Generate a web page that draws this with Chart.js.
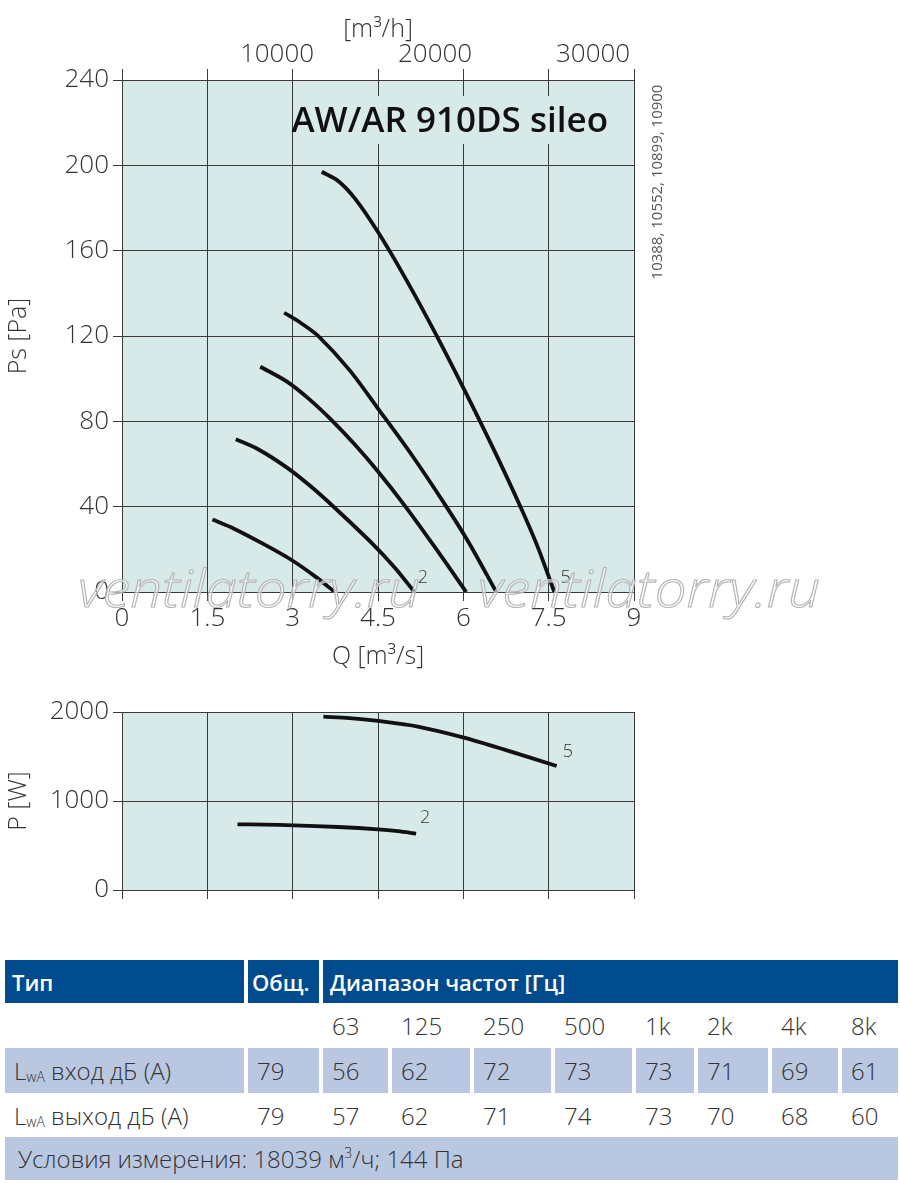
<!DOCTYPE html>
<html lang="ru">
<head>
<meta charset="utf-8">
<script src="https://cdn.jsdelivr.net/npm/chart.js@4.4.1/dist/chart.umd.min.js"></script>
<style>
  body { margin: 0; width: 900px; height: 1183px; background: #fff; position: relative; overflow: hidden; font-family: "Open Sans", sans-serif; }
  #graficoPs { position: absolute; left: 0; top: 0; }
  #graficoP { position: absolute; left: 0; top: 690px; }
  table.ruido { position: absolute; left: 1px; top: 958px; width: 897px; border-collapse: separate; border-spacing: 4px 2px; table-layout: fixed; }
  table.ruido th { background: #004b8d; color: #fff; font-size: 22px; font-weight: 600; text-align: left; padding: 0 0 0 7px; height: 43px; white-space: nowrap; }
  table.ruido td { font-size: 24px; font-weight: 300; color: #333; padding: 0 0 0 9px; white-space: nowrap; }
  table.ruido tr.freq td { height: 41px; }
  table.ruido tr.claro td { background: #b9c7e0; height: 45px; }
  table.ruido tr.branco td { height: 40px; }
  table.ruido tr.cond td { background: #b9c7e0; height: 43px; padding-left: 13px; }
  sub { font-size: 14px; vertical-align: -2px; }
  sup { font-size: 14px; vertical-align: 10px; line-height: 0; }
</style>
</head>
<body>
<canvas id="graficoPs" width="900" height="680"></canvas>
<canvas id="graficoP" width="660" height="220"></canvas>

<table class="ruido">
  <colgroup>
    <col style="width:239px"><col style="width:71px">
    <col style="width:65px"><col style="width:78px"><col style="width:77px"><col style="width:77px">
    <col style="width:58px"><col style="width:70px"><col style="width:66px"><col style="width:56px">
  </colgroup>
  <tbody id="corpoTabela"></tbody>
</table>

<script>
// Curvas de pressão estática: Q [m³/s] e Ps [Pa]
const curva1Q = [1.59, 1.96, 2.5, 2.98, 3.4, 3.74];
const curva1Ps = [34, 29.8, 22.3, 15, 7.2, 0];
const curva2Q = [2.0, 2.4, 2.9, 3.3, 3.71, 4.4, 4.8, 5.14];
const curva2Ps = [71.6, 66.8, 58.3, 49.9, 40.2, 22.7, 11.3, 0];
const curva3Q = [2.43, 2.9, 3.3, 3.68, 4.1, 4.5, 4.95, 5.5, 6.05];
const curva3Ps = [105.6, 98.6, 90.2, 80.7, 68.9, 56.5, 41.2, 21, 0];
const curva4Q = [2.85, 3.15, 3.45, 4.0, 4.5, 5.1, 5.69, 6.1, 6.58];
const curva4Ps = [130.9, 126, 120, 104, 86, 64, 40.5, 23, 0];
const curva5Q = [3.51, 3.8, 4.1, 4.5, 5.0, 5.5, 6.0, 6.5, 7.0, 7.3, 7.6];
const curva5Ps = [197, 192.7, 184.3, 168.7, 146.2, 121.7, 95.7, 68.7, 40.2, 21.6, 0];

// Potência: Q [m³/s] e P [W]
const potencia2Q = [2.03, 2.5, 3.02, 3.8, 4.5, 4.85, 5.17];
const potencia2W = [738, 735, 727, 708, 682, 661, 633];
const potencia5Q = [3.54, 4.0, 4.5, 5.2, 6.01, 6.71, 7.64];
const potencia5W = [1948, 1932, 1899, 1836, 1712, 1580, 1393];

// Rótulos das curvas (número, Q, valor)
const rotulosPs = [['2', 5.29, 6.6], ['5', 7.8, 6.6]];
const rotulosP = [['2', 5.33, 809], ['5', 7.84, 1551]];

// Eixos
const ticksVazaoH = [10000, 20000, 30000];
const titulo = 'AW/AR 910DS sileo';
const codigos = '10388, 10552, 10899, 10900';

// Tabela de ruído
const frequencias = ['63', '125', '250', '500', '1k', '2k', '4k', '8k'];
const entradaTotal = 79;
const entradaDb = [56, 62, 72, 73, 73, 71, 69, 61];
const saidaTotal = 79;
const saidaDb = [57, 62, 71, 74, 73, 70, 68, 60];

const FUNDO = '#d7eae9';
const GRADE = '#3a3a3a';
const TEXTO = '#333';
const FONTE = '"Open Sans", sans-serif';

Chart.defaults.font.family = FONTE;
Chart.defaults.color = TEXTO;

function pontos(xs, ys) {
    return xs.map(function(x, i) { return { x: x, y: ys[i] }; });
}

function serie(xs, ys) {
    return {
        data: pontos(xs, ys),
        showLine: true,
        borderColor: '#111',
        borderWidth: 3.8,
        pointRadius: 0,
        tension: 0.3,
        borderCapStyle: 'butt'
    };
}

const fundoPlugin = {
    id: 'fundo',
    beforeDraw: function(chart) {
        const a = chart.chartArea;
        const ctx = chart.ctx;
        ctx.save();
        ctx.fillStyle = FUNDO;
        ctx.fillRect(a.left, a.top, a.right - a.left, a.bottom - a.top);
        ctx.restore();
    }
};

function desenhaRotulos(chart, rotulos) {
    const ctx = chart.ctx;
    ctx.save();
    ctx.font = '300 18px ' + FONTE;
    ctx.fillStyle = TEXTO;
    ctx.textAlign = 'center';
    ctx.textBaseline = 'middle';
    rotulos.forEach(function(r) {
        ctx.fillText(r[0], chart.scales.x.getPixelForValue(r[1]), chart.scales.y.getPixelForValue(r[2]));
    });
    ctx.restore();
}

const extrasPs = {
    id: 'extrasPs',
    beforeDatasetsDraw: function(chart) {
        const ctx = chart.ctx;
        const a = chart.chartArea;
        ctx.save();
        ctx.fillStyle = FUNDO;
        ctx.fillRect(292 + 3, a.top + 16, a.right - 295 - 12, 48);
        ctx.font = '600 35px ' + FONTE;
        ctx.fillStyle = '#111';
        ctx.textAlign = 'right';
        ctx.textBaseline = 'alphabetic';
        ctx.fillText(titulo, a.right - 26, a.top + 52);
        ctx.restore();
    },
    afterDraw: function(chart) {
        const ctx = chart.ctx;
        const a = chart.chartArea;
        desenhaRotulos(chart, rotulosPs);

        // rótulos do eixo superior (m³/h)
        const xh = chart.scales.xh;
        ctx.save();
        ctx.font = '300 26px ' + FONTE;
        ctx.fillStyle = TEXTO;
        ctx.textAlign = 'center';
        ctx.textBaseline = 'middle';
        ticksVazaoH.forEach(function(v) {
            ctx.fillText(String(v), xh.getPixelForValue(v) - 3, a.top - 25);
        });
        ctx.restore();

        // códigos na vertical, à direita
        ctx.save();
        ctx.translate(a.right + 24, a.top + 102);
        ctx.rotate(-Math.PI / 2);
        ctx.font = '15px ' + FONTE;
        ctx.fillStyle = '#555';
        ctx.textAlign = 'center';
        ctx.textBaseline = 'middle';
        ctx.fillText(codigos, 0, 0);
        ctx.restore();

        // marca d'água
        ctx.save();
        ctx.font = 'italic 300 52px ' + FONTE;
        const largura = ctx.measureText('ventilatorry.ru').width;
        [78, 478].forEach(function(x0) {
            ctx.save();
            ctx.translate(x0, a.bottom + 15);
            ctx.scale(342 / largura, 1);
            ctx.fillStyle = 'rgba(255,255,255,0.55)';
            ctx.fillText('ventilatorry.ru', 0, 0);
            ctx.lineWidth = 1.1;
            ctx.strokeStyle = '#b4b4b4';
            ctx.strokeText('ventilatorry.ru', 0, 0);
            ctx.restore();
        });
        ctx.restore();
    }
};

const extrasP = {
    id: 'extrasP',
    afterDraw: function(chart) {
        desenhaRotulos(chart, rotulosP);
    }
};

const gradeEixo = { color: GRADE, lineWidth: 1, tickLength: 9, tickColor: GRADE };
const fonteTicks = { size: 26, weight: '300' };
const fonteTitulo = { size: 25, weight: '300' };
function semFormato(v) { return String(v); }

// Gráfico de pressão estática
const configPs = {
    type: 'scatter',
    data: {
        datasets: [
            serie(curva1Q, curva1Ps), serie(curva2Q, curva2Ps), serie(curva3Q, curva3Ps),
            serie(curva4Q, curva4Ps), serie(curva5Q, curva5Ps)
        ]
    },
    options: {
        responsive: false,
        animation: false,
        devicePixelRatio: 1,
        layout: { padding: { left: 0, right: 266, top: 0, bottom: 0 } },
        plugins: { legend: { display: false }, tooltip: { enabled: false } },
        scales: {
            x: {
                type: 'linear', position: 'bottom', min: 0, max: 9,
                grid: gradeEixo,
                border: { color: GRADE },
                ticks: { stepSize: 1.5, font: fonteTicks, padding: 2, maxRotation: 0, callback: semFormato },
                title: { display: true, text: 'Q [m³/s]', font: fonteTitulo, padding: { top: 0, bottom: 8 } },
                afterFit: function(s) { s.height = 88; }
            },
            xh: {
                type: 'linear', position: 'top', min: 0, max: 9 * 3600,
                grid: { drawOnChartArea: false, color: GRADE, tickLength: 11, tickColor: GRADE },
                border: { color: GRADE },
                ticks: { stepSize: 5000, maxRotation: 0, autoSkip: false, callback: function() { return ''; } },
                title: { display: true, text: '[m³/h]', font: fonteTitulo, padding: { top: 15, bottom: 0 } },
                afterFit: function(s) { s.height = 80; }
            },
            y: {
                min: 0, max: 240,
                grid: gradeEixo,
                border: { color: GRADE },
                ticks: { stepSize: 40, font: fonteTicks, padding: 4, callback: semFormato },
                title: { display: true, text: 'Ps [Pa]', font: fonteTitulo, padding: { top: 4, bottom: 0 } },
                afterFit: function(s) { s.width = 122; }
            }
        }
    },
    plugins: [fundoPlugin, extrasPs]
};

// Gráfico de potência
const configP = {
    type: 'scatter',
    data: {
        datasets: [serie(potencia2Q, potencia2W), serie(potencia5Q, potencia5W)]
    },
    options: {
        responsive: false,
        animation: false,
        devicePixelRatio: 1,
        layout: { padding: { left: 0, right: 26, top: 22, bottom: 0 } },
        plugins: { legend: { display: false }, tooltip: { enabled: false } },
        scales: {
            x: {
                type: 'linear', min: 0, max: 9,
                grid: gradeEixo,
                border: { color: GRADE },
                ticks: { stepSize: 1.5, callback: function() { return ''; } },
                afterFit: function(s) { s.height = 20; }
            },
            y: {
                min: 0, max: 2000,
                grid: gradeEixo,
                border: { color: GRADE },
                ticks: { stepSize: 1000, font: fonteTicks, padding: 4, callback: semFormato },
                title: { display: true, text: 'P [W]', font: fonteTitulo, padding: { top: 4, bottom: 0 } },
                afterFit: function(s) { s.width = 122; }
            }
        }
    },
    plugins: [fundoPlugin, extrasP]
};

function montaTabela() {
    let html = '<tr><th>Тип</th><th style="padding-left:4px">Общ.</th><th colspan="8">Диапазон частот [Гц]</th></tr>';
    html += '<tr class="freq"><td></td><td></td>' + frequencias.map(function(f) { return '<td>' + f + '</td>'; }).join('') + '</tr>';
    html += '<tr class="claro"><td>L<sub>wA</sub> вход дБ (A)</td><td>' + entradaTotal + '</td>' +
        entradaDb.map(function(v) { return '<td>' + v + '</td>'; }).join('') + '</tr>';
    html += '<tr class="branco"><td>L<sub>wA</sub> выход дБ (A)</td><td>' + saidaTotal + '</td>' +
        saidaDb.map(function(v) { return '<td>' + v + '</td>'; }).join('') + '</tr>';
    html += '<tr class="cond"><td colspan="10">Условия измерения: 18039 м<sup>3</sup>/ч; 144 Па</td></tr>';
    document.getElementById('corpoTabela').innerHTML = html;
}

montaTabela();
new Chart(document.getElementById('graficoPs'), configPs);
new Chart(document.getElementById('graficoP'), configP);
</script>
</body>
</html>
